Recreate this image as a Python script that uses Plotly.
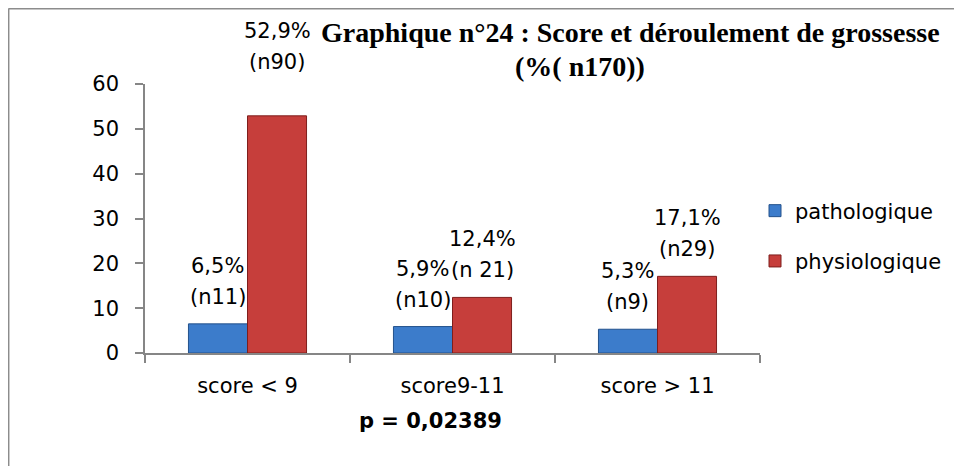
import plotly.graph_objects as go

# ---- data ----
categories = ["score < 9", "score9-11", "score > 11"]
series_names = ["pathologique", "physiologique"]
patho_values = [6.5, 5.9, 5.3]
physio_values = [52.9, 12.4, 17.1]
patho_pct = ["6,5%", "5,9%", "5,3%"]
patho_n = ["(n11)", "(n10)", "(n9)"]
physio_pct = ["52,9%", "12,4%", "17,1%"]
physio_n = ["(n90)", "(n 21)", "(n29)"]
y_ticks = [0, 10, 20, 30, 40, 50, 60]
title_line1 = "Graphique n°24 : Score et déroulement de grossesse"
title_line2 = "(%( n170))"
pvalue_text = "p = 0,02389"

# ---- layout geometry (page pixels; page body has an 8px margin) ----
OFF = 8
W, H = 962, 466
PLOT_L, PLOT_R, PLOT_T, PLOT_B = 145, 760, 84, 353
ML = PLOT_L - OFF
MT = PLOT_T - OFF
PW = PLOT_R - PLOT_L
PH = PLOT_B - PLOT_T
MR = W - ML - PW
MB = H - MT - PH
BARGAP = 0.424
FONT = "DejaVu Sans"
FS = 21
BLUE, BLUE_EDGE = "#3C7CCB", "#24528C"
RED, RED_EDGE = "#C63E3B", "#7E1E1C"
AXIS_COLOR = "#868686"

fig = go.Figure()
fig.add_trace(go.Bar(x=categories, y=patho_values, name=series_names[0],
                     legendgroup="a",
                     marker=dict(color=BLUE, line=dict(color=BLUE_EDGE, width=1))))
fig.add_trace(go.Bar(x=categories, y=physio_values, name=series_names[1],
                     legendgroup="b",
                     marker=dict(color=RED, line=dict(color=RED_EDGE, width=1))))

# label annotations
cat_px = PW / len(categories)
half_bar = cat_px * (1 - BARGAP) / 4
annotations = []
for series_vals, pcts, ns, side in [(patho_values, patho_pct, patho_n, -1),
                                    (physio_values, physio_pct, physio_n, 1)]:
    for i, (c, v) in enumerate(zip(categories, series_vals)):
        lift = 27 + (27 if v > 40 else 0)
        annotations.append(dict(x=c, y=v, xref="x", yref="y", text=ns[i],
                                showarrow=False, xshift=side * half_bar,
                                yshift=lift, yanchor="middle",
                                font=dict(family=FONT, size=FS, color="black")))
        annotations.append(dict(x=c, y=v, xref="x", yref="y", text=pcts[i],
                                showarrow=False, xshift=side * half_bar,
                                yshift=lift + 31, yanchor="middle",
                                font=dict(family=FONT, size=FS, color="black")))


def px_x(px):
    return (px - PLOT_L) / PW


def px_y(py):
    return (PLOT_B - py) / PH


annotations.append(dict(x=px_x(630), y=px_y(32), xref="paper", yref="paper",
                        text="<b>" + title_line1 + "</b>", showarrow=False,
                        xanchor="center", yanchor="middle",
                        font=dict(family="Liberation Serif", size=28, color="black")))
annotations.append(dict(x=px_x(580), y=px_y(67), xref="paper", yref="paper",
                        text="<b>" + title_line2 + "</b>", showarrow=False,
                        xanchor="center", yanchor="middle",
                        font=dict(family="Liberation Serif", size=28, color="black")))
annotations.append(dict(x=px_x(430), y=px_y(421), xref="paper", yref="paper",
                        text="<b>" + pvalue_text + "</b>", showarrow=False,
                        xanchor="center", yanchor="middle",
                        font=dict(family=FONT, size=FS, color="black")))

shapes = [
    dict(type="line", xref="paper", yref="paper", x0=px_x(8.5), x1=px_x(980),
         y0=px_y(8.7), y1=px_y(8.7), line=dict(color="#8C8C8C", width=1.5)),
    dict(type="line", xref="paper", yref="paper", x0=px_x(8.7), x1=px_x(8.7),
         y0=px_y(8.5), y1=px_y(480), line=dict(color="#8C8C8C", width=1.5)),
]

fig.update_layout(
    width=W, height=H,
    margin=dict(l=ML, r=MR, t=MT, b=MB, autoexpand=False),
    paper_bgcolor="white", plot_bgcolor="white",
    barmode="group", bargap=BARGAP, bargroupgap=0,
    font=dict(family=FONT, size=FS, color="black"),
    showlegend=True,
    legend=dict(x=px_x(755), y=px_y(236), xanchor="left", yanchor="middle",
                font=dict(family=FONT, size=FS, color="black"),
                tracegroupgap=20, itemwidth=30, bgcolor="rgba(0,0,0,0)"),
    annotations=annotations,
    shapes=shapes,
)
fig.update_xaxes(showline=True, linecolor=AXIS_COLOR, linewidth=1.5,
                 ticks="outside", tickson="boundaries", ticklen=8,
                 tickcolor=AXIS_COLOR, tickwidth=1.5,
                 showgrid=False, zeroline=False, ticklabelstandoff=13,
                 tickfont=dict(family=FONT, size=FS, color="black"))
fig.update_yaxes(range=[0, 60], tickvals=y_ticks, showline=True,
                 linecolor=AXIS_COLOR, linewidth=1.5, ticks="outside",
                 ticklen=8, tickcolor=AXIS_COLOR, tickwidth=1.5,
                 showgrid=False, zeroline=False, ticklabelstandoff=12,
                 tickfont=dict(family=FONT, size=FS, color="black"))

fig.write_html("out.html")
